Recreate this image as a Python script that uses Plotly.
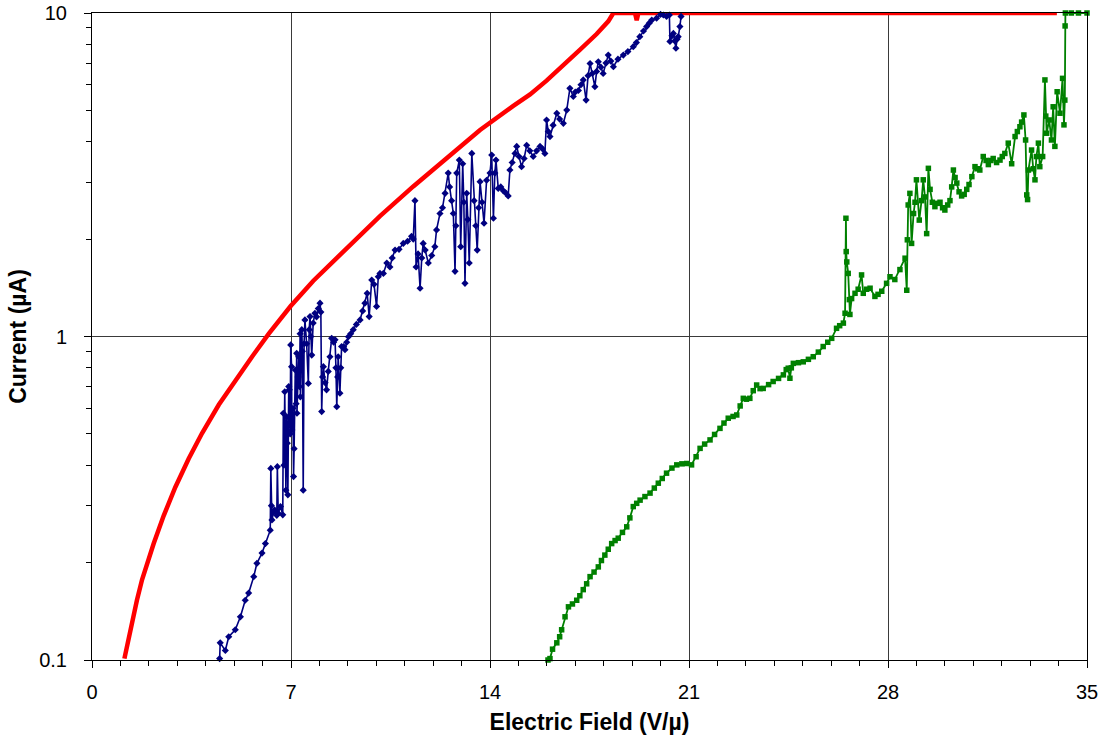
import plotly.graph_objects as go

# ---------------- data ----------------
red_x = [1.14, 1.41, 1.58, 1.76, 1.95, 2.17, 2.52, 2.93, 3.40, 3.87, 4.46, 5.04, 5.63, 6.22,
         6.99, 7.78, 8.96, 10.13, 11.30, 12.48, 13.65, 14.82, 15.41, 15.99, 16.58, 17.16,
         17.75, 18.16, 18.34, 19.10, 19.16, 19.22, 33.94]
red_y = [0.101, 0.133, 0.153, 0.177, 0.202, 0.229, 0.279, 0.342, 0.419, 0.502, 0.615, 0.734, 0.866, 1.021,
         1.242, 1.485, 1.878, 2.357, 2.91, 3.56, 4.35, 5.16, 5.60, 6.18, 6.88, 7.69,
         8.61, 9.42, 10.0, 10.0, 9.5, 10.0, 10.0]

blue_x = [4.49, 4.51, 4.69, 4.81, 5.04, 5.22, 5.39, 5.51, 5.69, 5.80, 5.98, 6.10, 6.27,
          6.29, 6.31, 6.33, 6.39, 6.42, 6.50, 6.52, 6.55, 6.63, 6.71, 6.73, 6.75, 6.78,
          6.82, 6.85, 6.87, 6.89, 6.92, 6.94, 6.97, 6.99, 7.02, 7.03, 7.07, 7.09, 7.11,
          7.15, 7.18, 7.20, 7.21, 7.25, 7.27, 7.30, 7.32, 7.33, 7.38, 7.40, 7.43, 7.46,
          7.49, 7.55, 7.61, 7.64, 7.67, 7.70, 7.73, 7.78, 7.84, 7.90, 7.96, 8.02, 8.05,
          8.08, 8.11, 8.14, 8.20, 8.25, 8.31, 8.37, 8.43, 8.50, 8.55, 8.58, 8.61, 8.64,
          8.66, 8.72, 8.75, 8.78, 8.85, 8.90, 8.96, 9.02, 9.10, 9.19, 9.30, 9.43, 9.52,
          9.60, 9.68, 9.75, 9.84, 9.92, 10.01, 10.07, 10.13, 10.25, 10.37, 10.48, 10.56,
          10.66, 10.80, 10.95, 11.10, 11.24, 11.30, 11.36, 11.40, 11.47, 11.54, 11.60,
          11.65, 11.72, 11.83, 11.95, 12.06, 12.12, 12.24, 12.33, 12.42, 12.53, 12.58,
          12.65, 12.71, 12.77, 12.80, 12.83, 12.92, 12.97, 13.04, 13.08, 13.12, 13.18,
          13.22, 13.27, 13.36, 13.44, 13.50, 13.55, 13.60, 13.65, 13.72, 13.79, 13.88,
          14.00, 14.06, 14.12, 14.17, 14.21, 14.29, 14.38, 14.47, 14.55, 14.64, 14.70,
          14.78, 14.88, 14.94, 15.02, 15.11, 15.20, 15.29, 15.40, 15.52, 15.64, 15.76,
          15.85, 15.93, 15.99, 16.05, 16.11, 16.22, 16.35, 16.45, 16.58, 16.70, 16.81,
          16.93, 17.00, 17.11, 17.20, 17.28, 17.38, 17.45, 17.52, 17.60, 17.69, 17.75,
          17.81, 17.90, 17.98, 18.08, 18.16, 18.25, 18.34, 18.50, 18.69, 18.85, 19.04,
          19.15, 19.27, 19.40, 19.51, 19.60, 19.69, 19.86, 20.00, 20.10, 20.21, 20.31,
          20.33, 20.40, 20.45, 20.50, 20.54, 20.58, 20.62, 20.68, 20.72]
blue_y = [0.101, 0.113, 0.107, 0.118, 0.124, 0.136, 0.153, 0.161, 0.181, 0.199, 0.214, 0.229, 0.252,
          0.391, 0.300, 0.271, 0.287, 0.291, 0.280, 0.396, 0.284, 0.298, 0.281, 0.579, 0.400, 0.675,
          0.335, 0.565, 0.468, 0.324, 0.700, 0.684, 0.500, 0.942, 0.807, 0.514, 0.600, 0.369, 0.450,
          0.788, 0.620, 0.887, 0.579, 0.750, 0.866, 0.700, 1.02, 0.651, 1.05, 0.900, 0.335, 0.950,
          1.125, 0.950, 0.716, 1.05, 1.152, 1.00, 0.876, 1.10, 1.18, 1.15, 1.22, 1.268, 1.19,
          0.586, 0.750, 0.807, 0.720, 0.684, 0.780, 0.866, 0.987, 0.960, 0.977, 0.800, 0.607, 0.750,
          0.866, 0.668, 0.800, 0.931, 0.930, 0.910, 0.960, 0.998, 1.02, 1.05, 1.09, 1.125, 1.20,
          1.268, 1.36, 1.152, 1.495, 1.45, 1.239, 1.53, 1.567, 1.567, 1.687, 1.64, 1.75,
          1.85, 1.86, 1.94, 1.97, 2.04, 2.00, 2.63, 1.64, 1.80, 1.41, 1.75,
          1.94, 1.85, 1.687, 1.78, 1.895, 2.135, 2.40, 2.50, 2.77, 3.20, 2.90,
          2.63, 2.40, 1.59, 2.20, 3.20, 3.51, 1.895, 3.42, 2.60, 1.46, 2.77,
          2.30, 1.687, 3.68, 2.63, 2.20, 1.85, 2.50, 3.01, 2.60, 2.24, 3.04,
          3.20, 3.64, 2.32, 3.20, 3.51, 2.87, 2.90, 2.82, 2.78, 2.72, 3.27,
          3.45, 3.68, 3.87, 3.60, 3.35, 3.55, 3.90, 3.75, 3.60, 3.75, 3.87,
          3.80, 3.68, 4.67, 4.30, 4.15, 4.50, 4.90, 4.70, 4.56, 5.01, 5.85,
          5.52, 5.70, 5.76, 6.00, 6.21, 5.38, 6.40, 6.98, 6.50, 5.92, 6.60,
          7.07, 6.80, 6.50, 7.00, 7.41, 7.10, 6.82, 7.20, 7.41, 7.60, 7.87,
          8.10, 8.45, 8.80, 9.08, 9.30, 9.51, 9.64, 9.90, 9.86, 9.76, 9.86,
          8.17, 8.50, 8.65, 8.20, 7.78, 8.30, 8.45, 9.08, 9.76]

green_x = [16.04, 16.11, 16.20, 16.35, 16.45, 16.52, 16.64, 16.76, 16.90, 17.05, 17.16, 17.28,
           17.40, 17.52, 17.66, 17.81, 17.92, 18.04, 18.16, 18.28, 18.40, 18.51, 18.66, 18.81,
           18.92, 19.04, 19.16, 19.28, 19.45, 19.63, 19.78, 19.92, 20.06, 20.21, 20.40, 20.57,
           20.75, 20.92, 21.09, 21.25, 21.39, 21.55, 21.74, 21.90, 22.09, 22.23, 22.38, 22.55,
           22.68, 22.80, 22.91, 23.02, 23.14, 23.26, 23.38, 23.50, 23.61, 23.80, 23.96, 24.15,
           24.32, 24.42, 24.49, 24.55, 24.60, 24.67, 24.85, 25.02, 25.20, 25.37, 25.55, 25.72,
           25.88, 26.02, 26.19, 26.30, 26.43, 26.49, 26.52, 26.53, 26.55, 26.60, 26.64, 26.66,
           26.72, 26.84, 26.95, 27.07, 27.13, 27.25, 27.37, 27.54, 27.65, 27.78, 27.95, 28.07,
           28.24, 28.42, 28.60, 28.66, 28.68, 28.71, 28.77, 28.83, 28.90, 28.95, 29.00, 29.10,
           29.18, 29.24, 29.30, 29.36, 29.42, 29.48, 29.56, 29.65, 29.75, 29.83, 29.92, 30.00,
           30.10, 30.18, 30.24, 30.30, 30.36, 30.42, 30.50, 30.59, 30.68, 30.77, 30.85, 30.95,
           31.06, 31.15, 31.23, 31.35, 31.45, 31.53, 31.62, 31.70, 31.82, 31.94, 32.02, 32.11,
           32.23, 32.35, 32.47, 32.55, 32.64, 32.70, 32.78, 32.84, 32.88, 32.91, 32.94, 33.05,
           33.11, 33.17, 33.22, 33.29, 33.34, 33.44, 33.52, 33.55, 33.58, 33.67, 33.75, 33.81,
           33.87, 33.95, 34.05, 34.14, 34.19, 34.22, 34.23, 34.24, 34.45, 34.70, 35.00]
green_y = [0.100, 0.101, 0.108, 0.113, 0.118, 0.124, 0.136, 0.146, 0.149, 0.153, 0.158, 0.165,
           0.172, 0.181, 0.187, 0.194, 0.203, 0.211, 0.220, 0.229, 0.234, 0.238, 0.248, 0.258,
           0.275, 0.298, 0.305, 0.312, 0.320, 0.328, 0.340, 0.352, 0.364, 0.378, 0.392, 0.401,
           0.404, 0.405, 0.401, 0.425, 0.451, 0.465, 0.479, 0.498, 0.520, 0.540, 0.559, 0.566,
           0.572, 0.610, 0.644, 0.640, 0.644, 0.680, 0.708, 0.690, 0.691, 0.710, 0.726, 0.742,
           0.761, 0.790, 0.798, 0.743, 0.800, 0.826, 0.830, 0.835, 0.850, 0.866, 0.895, 0.931,
           0.960, 0.987, 1.06, 1.08, 1.10, 1.18, 2.32, 1.83, 1.70, 1.567, 1.30, 1.17,
           1.31, 1.36, 1.40, 1.55, 1.36, 1.40, 1.41, 1.33, 1.35, 1.38, 1.46, 1.53,
           1.50, 1.61, 1.746, 1.39, 1.99, 2.55, 2.77, 1.94, 2.40, 2.60, 3.05, 2.29,
           2.63, 3.05, 2.70, 2.08, 3.31, 2.85, 2.60, 2.52, 2.58, 2.60, 2.50, 2.46,
           2.55, 2.63, 2.90, 3.27, 3.10, 2.98, 2.80, 2.72, 2.75, 2.85, 2.95, 3.12,
           3.35, 3.30, 3.27, 3.60, 3.50, 3.40, 3.50, 3.55, 3.45, 3.51, 3.60, 3.68,
           3.96, 3.42, 4.15, 4.30, 4.45, 4.60, 4.84, 4.05, 2.74, 2.65, 3.27, 3.77,
           3.30, 3.05, 3.60, 3.96, 3.35, 3.60, 6.21, 4.80, 4.25, 4.67, 4.05, 5.13,
           3.87, 5.71, 4.90, 6.28, 4.51, 5.38, 9.12, 10.0, 10.0, 10.0, 10.0]

x_ticks = [0, 7, 14, 21, 28, 35]
y_ticks = [0.1, 1, 10]
y_tick_text = ["0.1", "1", "10"]
y_minor = [0.2, 0.3, 0.4, 0.5, 0.6, 0.7, 0.8, 0.9, 2, 3, 4, 5, 6, 7, 8, 9]

FONT = "Arial, Liberation Sans, Helvetica, sans-serif"

fig = go.Figure()
fig.add_trace(go.Scatter(
    x=red_x, y=red_y, mode="lines", cliponaxis=False,
    line=dict(color="#FF0000", width=4.5), showlegend=False))
fig.add_trace(go.Scatter(
    x=blue_x, y=blue_y, mode="lines+markers", cliponaxis=False,
    line=dict(color="#000080", width=1.6),
    marker=dict(symbol="diamond", size=5.5, color="#000080"), showlegend=False))
fig.add_trace(go.Scatter(
    x=green_x, y=green_y, mode="lines+markers", cliponaxis=False,
    line=dict(color="#008000", width=1.8),
    marker=dict(symbol="square", size=5.5, color="#008000"), showlegend=False))

fig.update_layout(
    width=1107, height=742,
    margin=dict(l=92, r=20, t=13, b=82, autoexpand=False),
    paper_bgcolor="white", plot_bgcolor="white",
    font=dict(family=FONT, size=20, color="black"),
)
fig.update_xaxes(
    range=[0, 35], tickvals=x_ticks, ticks="outside", ticklen=7, tickcolor="black",
    showline=True, linecolor="black", linewidth=1, mirror=True,
    showgrid=True, gridcolor="#3a3a3a", gridwidth=1, zeroline=False,
    ticklabelstandoff=7, ticklabeloverflow="allow",
    minor=dict(dtick=1, ticks="outside", ticklen=5, tickcolor="black", showgrid=False),
    title=dict(text="<b>Electric Field (V/µ)</b>", font=dict(size=23), standoff=11),
    automargin=False,
)
fig.update_yaxes(
    type="log", range=[-1, 1], tickvals=y_ticks, ticktext=y_tick_text,
    ticks="outside", ticklen=7, tickcolor="black",
    showline=True, linecolor="black", linewidth=1, mirror=True,
    showgrid=True, gridcolor="#3a3a3a", gridwidth=1, zeroline=False,
    ticklabelstandoff=13, ticklabeloverflow="allow",
    minor=dict(tickvals=y_minor, ticks="outside", ticklen=5, tickcolor="black", showgrid=False),
    title=dict(text="<b>Current (µA)</b>", font=dict(size=23), standoff=6),
    automargin=False,
)

fig.write_html("out.html", config=dict(displayModeBar=False, staticPlot=True),
               post_script="document.body.style.margin='0';")
